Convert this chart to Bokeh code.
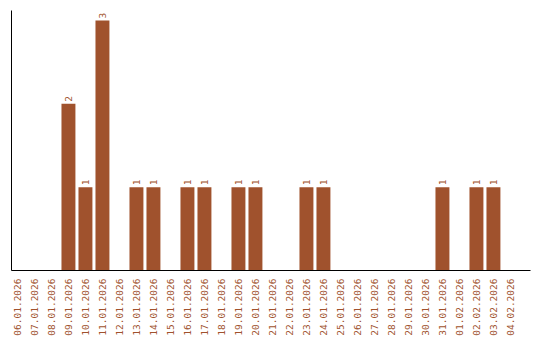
import math
from bokeh.plotting import figure
from bokeh.models import ColumnDataSource, Range1d, FixedTicker
from bokeh.core.properties import value
from bokeh.embed import file_html
from bokeh.resources import INLINE

dates = ["06.01.2026", "07.01.2026", "08.01.2026", "09.01.2026", "10.01.2026",
         "11.01.2026", "12.01.2026", "13.01.2026", "14.01.2026", "15.01.2026",
         "16.01.2026", "17.01.2026", "18.01.2026", "19.01.2026", "20.01.2026",
         "21.01.2026", "22.01.2026", "23.01.2026", "24.01.2026", "25.01.2026",
         "26.01.2026", "27.01.2026", "28.01.2026", "29.01.2026", "30.01.2026",
         "31.01.2026", "01.02.2026", "02.02.2026", "03.02.2026", "04.02.2026"]
counts = [0, 0, 0, 2, 1, 3, 0, 1, 1, 0, 1, 1, 0, 1, 1, 0, 0, 1, 1, 0,
          0, 0, 0, 0, 0, 1, 0, 1, 1, 0]

COLOR = "#A0522D"
FONT = "DejaVu Sans Mono"

idx = list(range(len(dates)))
src = ColumnDataSource(dict(x=idx, y=counts))
nz = [i for i, c in enumerate(counts) if c > 0]
lbl_src = ColumnDataSource(dict(x=nz, y=[counts[i] for i in nz],
                                label=[str(counts[i]) for i in nz]))

p = figure(width=540, height=340, output_backend="svg", toolbar_location=None,
           x_range=Range1d(-0.35, 30.18), y_range=Range1d(0, 3.12),
           min_border_left=11, min_border_right=10, min_border_top=10,
           min_border_bottom=70)
p.outline_line_color = None
p.xgrid.visible = False
p.ygrid.visible = False
p.background_fill_color = "white"
p.border_fill_color = "white"

p.vbar(x="x", top="y", width=0.82, source=src, fill_color=COLOR, line_color=None)
p.text(x="x", y="y", text="label", source=lbl_src, angle=math.pi / 2,
       text_align="left", text_baseline="middle", y_offset=-2,
       text_font=value(FONT), text_font_size="9.5px", text_color=COLOR)

xa = p.xaxis[0]
xa.ticker = FixedTicker(ticks=idx)
xa.major_label_overrides = {i: d for i, d in enumerate(dates)}
xa.major_label_orientation = math.pi / 2
xa.major_label_text_font = FONT
xa.major_label_text_font_size = "9.5px"
xa.major_label_text_color = COLOR
xa.major_tick_line_color = None
xa.minor_tick_line_color = None
xa.major_label_standoff = 2
xa.axis_line_color = "black"

ya = p.yaxis[0]
ya.ticker = FixedTicker(ticks=[])
ya.major_tick_line_color = None
ya.minor_tick_line_color = None
ya.major_label_standoff = 0
ya.axis_line_color = "black"

open("out.html", "w").write(file_html(p, INLINE))
